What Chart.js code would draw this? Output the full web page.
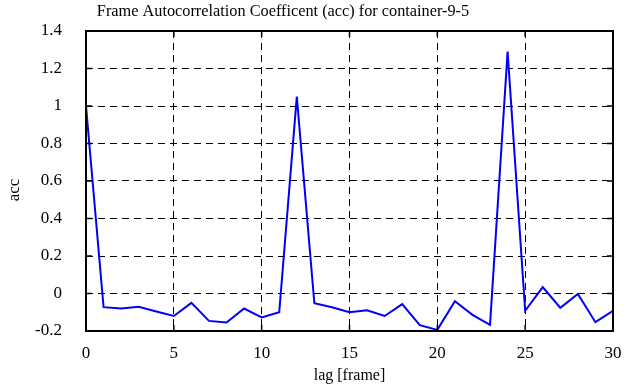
<!DOCTYPE html>
<html>
<head>
<meta charset="utf-8">
<script src="https://cdn.jsdelivr.net/npm/chart.js@4/dist/chart.umd.min.js"></script>
<style>
  html, body { margin: 0; padding: 0; background: #fff; }
  #wrap { width: 641px; height: 387px; }
</style>
</head>
<body>
<div id="wrap"><canvas id="accChart" width="641" height="387"></canvas></div>
<script>
// lag values (frames) and autocorrelation
const lags = [0, 1, 2, 3, 4, 5, 6, 7, 8, 9, 10, 11, 12, 13, 14, 15,
  16, 17, 18, 19, 20, 21, 22, 23, 24, 25, 26, 27, 28, 29, 30];
const acc = [1.0, -0.073, -0.08, -0.071, -0.096, -0.12, -0.05, -0.146, -0.155, -0.08, -0.128,
  -0.10, 1.05, -0.052, -0.073, -0.10, -0.09, -0.12, -0.057, -0.169, -0.194,
  -0.041, -0.114, -0.167, 1.29, -0.092, 0.034, -0.076, -0.002, -0.153, -0.092];
const xTicks = [0, 5, 10, 15, 20, 25, 30];
const yTicks = [-0.2, 0, 0.2, 0.4, 0.6, 0.8, 1, 1.2, 1.4];
const yTickLabels = ['-0.2', '0', '0.2', '0.4', '0.6', '0.8', '1', '1.2', '1.4'];
const chartTitle = 'Frame Autocorrelation Coefficent (acc) for container-9-5';
const yTitle = 'acc';

const serif = 'Liberation Serif, Times New Roman, serif';

// title + y title (offset like the original), frame box, inward tick marks on all four sides
const frameBox = {
  id: 'frameBox',
  afterDatasetsDraw(chart) {
    const { ctx, chartArea: a, scales } = chart;
    ctx.save();
    ctx.strokeStyle = '#000';
    ctx.lineWidth = 1.5;
    ctx.beginPath();
    for (let v of xTicks) {
      let px = scales.x.getPixelForValue(v);
      ctx.moveTo(px, a.bottom); ctx.lineTo(px, a.bottom - 6);
      ctx.moveTo(px, a.top); ctx.lineTo(px, a.top + 6);
    }
    for (let v of yTicks) {
      let py = scales.y.getPixelForValue(v);
      ctx.moveTo(a.left, py); ctx.lineTo(a.left + 6, py);
      ctx.moveTo(a.right, py); ctx.lineTo(a.right - 6, py);
    }
    ctx.stroke();
    ctx.lineWidth = 2;
    ctx.strokeRect(a.left, a.top, a.right - a.left, a.bottom - a.top);

    ctx.fillStyle = '#000';
    ctx.font = '16.3px ' + serif;
    ctx.textAlign = 'center';
    ctx.textBaseline = 'alphabetic';
    ctx.fillText(chartTitle, 283, 16);

    ctx.font = '17px ' + serif;
    ctx.translate(19, 190);
    ctx.rotate(-Math.PI / 2);
    ctx.fillText(yTitle, 0, 0);
    ctx.restore();
  },
};

new Chart(document.getElementById('accChart').getContext('2d'), {
  type: 'line',
  data: {
    datasets: [
      {
        label: 'acc',
        data: lags.map((x, i) => ({ x: x, y: acc[i] })),
        borderColor: '#0000f5',
        backgroundColor: '#0000f5',
        borderWidth: 2,
        pointRadius: 0,
        tension: 0,
        fill: false,
      },
    ],
  },
  options: {
    responsive: false,
    animation: false,
    layout: { padding: { left: 0, right: 28, top: 31, bottom: 0 } },
    plugins: {
      legend: { display: false },
      tooltip: { enabled: false },
      title: { display: false },
    },
    scales: {
      x: {
        type: 'linear',
        min: 0,
        max: 30,
        afterBuildTicks: (s) => { s.ticks = xTicks.map((v) => ({ value: v })); },
        afterFit: (s) => { s.height = 56; s.paddingLeft = 0; s.paddingRight = 0; },
        grid: { color: '#000', lineWidth: 1, drawTicks: false },
        border: { display: false, dash: [7, 5] },
        ticks: { color: '#000', padding: 12, font: { family: serif, size: 17 } },
        title: {
          display: true,
          text: 'lag [frame]',
          color: '#000',
          font: { family: serif, size: 16 },
          padding: { top: 0, bottom: 2 },
        },
      },
      y: {
        min: -0.2,
        max: 1.4,
        afterBuildTicks: (s) => { s.ticks = yTicks.map((v) => ({ value: v })); },
        afterFit: (s) => { s.width = 86; s.paddingTop = 0; s.paddingBottom = 0; },
        grid: { color: '#000', lineWidth: 1, drawTicks: false },
        border: { display: false, dash: [7, 5] },
        ticks: {
          color: '#000',
          padding: 24,
          font: { family: serif, size: 17 },
          callback: (v, i) => yTickLabels[i],
        },
        title: { display: false },
      },
    },
  },
  plugins: [frameBox],
});
</script>
</body>
</html>
